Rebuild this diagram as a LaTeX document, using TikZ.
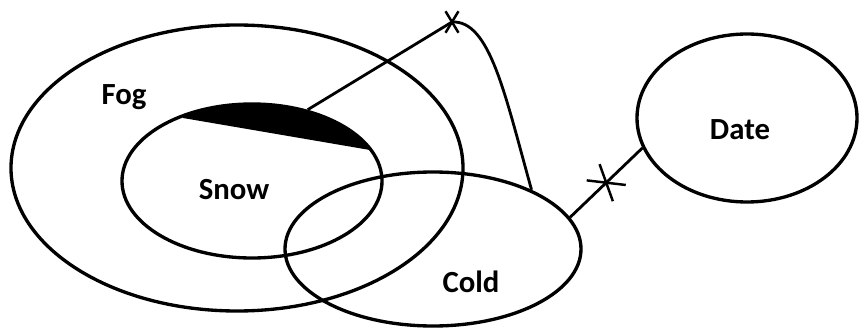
\documentclass[tikz,border=0pt]{standalone}
\usepackage{fontspec}
\setmainfont{Carlito}
\usepackage{tikz}
\usetikzlibrary{shapes.geometric, shapes.misc, positioning, calc}

\begin{document}
\begin{tikzpicture}[
    x=0.02cm, y=-0.02cm,
    set/.style={ellipse, draw, line width=1.9pt, inner sep=0pt},
    lbl/.style={font=\fontsize{17.5}{20}\selectfont\bfseries},
    link/.style={line width=1.6pt},
    cut/.style={draw, cross out, line width=1.4pt, inner sep=0pt}
]
\useasboundingbox (0,0) rectangle (859,331);

% sets
\node[set, minimum width=452*0.02cm, minimum height=286*0.02cm] (fog)  at (237,168) {};
\node[set, minimum width=260*0.02cm, minimum height=154*0.02cm] (snow) at (252,181) {};
\node[set, minimum width=296*0.02cm, minimum height=154*0.02cm] (cold) at (433,249) {};
\node[set, minimum width=220*0.02cm, minimum height=168*0.02cm] (date) at (747,118) {};

% shaded part of Snow
\begin{scope}
  \clip (snow.center) ellipse [x radius=130, y radius=77];
  \fill (183,118) -- (370,150) -- (370,60) -- (183,60) -- cycle;
\end{scope}

\node[lbl] (fogtext)  at (124,97)  {Fog};
\node[lbl] (snowtext) at (234,190) {Snow};
\node[lbl] (coldtext) at (471,282) {Cold};
\node[lbl] (datetext) at (740,130) {Date};

% broken links
\node[cut, minimum width=0.21cm, minimum height=0.38cm] (cut1) at (452,22) {};
\draw[link] (snow.52) -- (cut1.center)
    .. controls (490,20) and (505,95) .. (cold.31);
\draw[link] (cold.13) -- node[cut, pos=0.5, rotate=-38.5,
    minimum width=0.62cm, minimum height=0.365cm] (cut2) {} (date.196);
\end{tikzpicture}
\end{document}
